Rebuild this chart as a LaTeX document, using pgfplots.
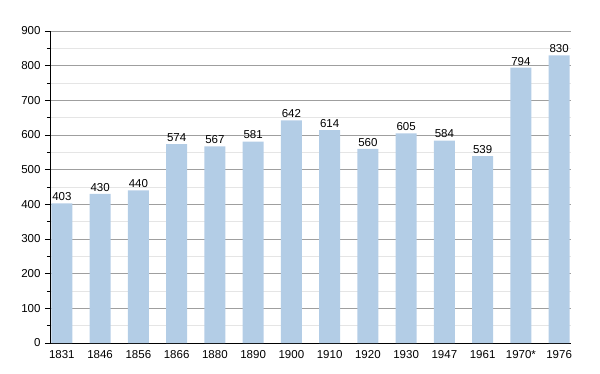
\documentclass[border=0pt]{standalone}
\usepackage{pgfplots}
\pgfplotsset{compat=1.18}
\usepackage{fontspec}
\setmainfont{Liberation Sans}
\definecolor{barblue}{HTML}{B3CDE6}
\begin{document}
\begin{tikzpicture}[x=1pt,y=1pt]
\useasboundingbox (-50,-30) rectangle (550,343);
\begin{axis}[
  at={(0,0)}, anchor=south west,
  scale only axis, width=521pt, height=312pt,
  xmin=-0.31, xmax=13.31, ymin=0, ymax=900,
  ytick={0,100,...,900}, minor ytick={50,150,...,850},
  xtick={0,...,13},
  xticklabels={1831,1846,1856,1866,1880,1890,1900,1910,1920,1930,1947,1961,1970*,1976},
  axis x line*=bottom, axis y line*=left,
  x axis line style={-, thick}, y axis line style={-, thick},
  major x tick style={draw=none},
  major y tick style={black, thick},
  minor y tick style={black, thick},
  tick align=outside, major tick length=5pt, minor tick length=3pt,
  ymajorgrids, yminorgrids,
  major grid style={gray!75, line width=0.6pt},
  minor grid style={gray!20, line width=0.6pt},
  tick label style={font=\fontsize{11.5}{13}\selectfont},
  xticklabel style={yshift=1pt},
  yticklabel style={xshift=-1pt},
  /pgf/number format/assume math mode=true,
  ybar, bar width=21pt,
  nodes near coords,
  every node near coord/.append style={font=\fontsize{11.5}{13}\selectfont, black, yshift=-1pt},
]
\addplot[fill=barblue, draw=none] coordinates {
(0,403) (1,430) (2,440) (3,574) (4,567) (5,581) (6,642) (7,614) (8,560) (9,605) (10,584) (11,539) (12,794) (13,830)
};
\end{axis}
\end{tikzpicture}
\end{document}
